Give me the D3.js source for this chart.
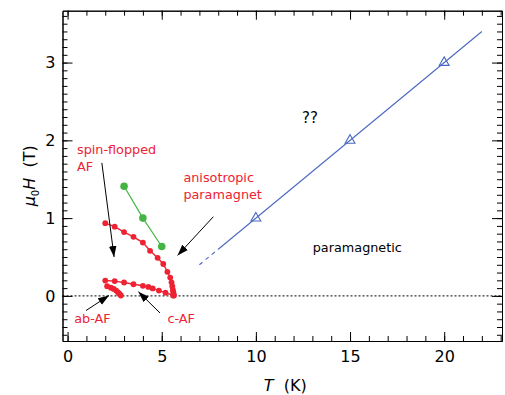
<!DOCTYPE html>
<html><head><meta charset="utf-8">
<script src="https://cdn.jsdelivr.net/npm/d3@7"></script>
<style>body{margin:0;background:#fff}svg{display:block}</style>
</head><body><svg id="c" width="505" height="395"></svg>
<script>
// ---- data ----
const xTicks = [0, 5, 10, 15, 20];
const yTicks = [0, 1, 2, 3];
// spin-flop boundary (upper red)
const sfT = [2.0, 2.5, 3.0, 3.5, 4.0, 4.38, 4.78, 5.08, 5.3, 5.45, 5.52, 5.56, 5.59, 5.61, 5.63, 5.65];
const sfH = [0.935, 0.89, 0.82, 0.76, 0.685, 0.58, 0.49, 0.41, 0.31, 0.235, 0.175, 0.125, 0.08, 0.05, 0.025, 0.005];
// c-AF boundary (lower red)
const cT = [2.0, 2.5, 3.0, 3.5, 4.0, 4.29, 4.52, 4.85, 5.2, 5.6];
const cH = [0.197, 0.19, 0.172, 0.15, 0.13, 0.115, 0.096, 0.068, 0.042, 0.005];
// ab-AF boundary
const abT = [2.1, 2.3, 2.45, 2.58, 2.68, 2.76, 2.83];
const abH = [0.125, 0.105, 0.09, 0.068, 0.045, 0.025, 0.005];
// green
const gT = [3, 4, 5];
const gH = [1.41, 1.0, 0.635];
// blue triangles and line
const bT = [10, 15, 20];
const bH = [1.0, 2.0, 3.0];
const bLineSolidT = [8, 22], bLineSolidH = [0.6, 3.4];
const bLineDashT = [7, 8], bLineDashH = [0.4, 0.6];
// annotations
const labels = [
  {t: "spin-flopped", T: 0.5, H: 1.83, c: "#ee2233", s: 12.8},
  {t: "AF", T: 0.5, H: 1.61, c: "#ee2233", s: 12.8},
  {t: "anisotropic", T: 6.15, H: 1.47, c: "#ee2233", s: 12.8},
  {t: "paramagnet", T: 6.15, H: 1.25, c: "#ee2233", s: 12.8},
  {t: "??", T: 12.45, H: 2.22, c: "#000", s: 15},
  {t: "paramagnetic", T: 13.02, H: 0.57, c: "#000", s: 12.8},
  {t: "ab-AF", T: 0.35, H: -0.35, c: "#ee2233", s: 12.8},
  {t: "c-AF", T: 5.3, H: -0.35, c: "#ee2233", s: 12.8}
];
const arrows = [
  [[1.82, 1.71], [2.47, 0.5]],
  [[7.74, 1.018], [5.84, 0.52]],
  [[0.98, -0.188], [2.2, 0.005]],
  [[4.91, -0.22], [3.76, 0.054]]
];

// ---- chart ----
const svg = d3.select("#c");
const x = d3.scaleLinear().domain([-0.27, 23.07]).range([62.5, 502]);
const y = d3.scaleLinear().domain([-0.58, 3.667]).range([341, 10.7]);
const RED = "#ee2233", GREEN = "#44b544", BLUE = "#4a68c0";
const font = "'DejaVu Sans', sans-serif";

const defs = svg.append("defs");
defs.append("marker").attr("id", "ah").attr("viewBox", "0 -4 11 8")
  .attr("refX", 11).attr("refY", 0).attr("markerWidth", 11).attr("markerHeight", 8)
  .attr("markerUnits", "userSpaceOnUse").attr("orient", "auto")
  .append("path").attr("d", "M0,-3.8L11,0L0,3.8Z").attr("fill", "#000");

// zero dotted line
svg.append("line").attr("x1", x.range()[0]).attr("x2", x.range()[1])
  .attr("y1", y(0)).attr("y2", y(0)).attr("stroke", "#000").attr("stroke-width", 1)
  .attr("stroke-dasharray", "2,2");

// axes
const minorX = d3.range(0, 24, 1);
const minorY = d3.range(-5, 37, 1).map(d => d / 10);
const fmt = d3.format("d");
function styleAxis(g) { g.selectAll("path,line").attr("stroke", "#000").attr("stroke-width", 1); g.selectAll("text").attr("font-family", font).attr("font-size", 16).attr("fill", "#000"); }
const B = y.range()[0], Tp = y.range()[1], L = x.range()[0], R = x.range()[1];
svg.append("g").attr("transform", `translate(0,${B})`).call(d3.axisBottom(x).tickValues(minorX).tickSize(-5).tickFormat("").tickSizeOuter(0)).call(styleAxis);
svg.append("g").attr("transform", `translate(0,${B})`).call(d3.axisBottom(x).tickValues(xTicks).tickSize(-9).tickPadding(10).tickFormat(fmt).tickSizeOuter(0)).call(styleAxis);
svg.append("g").attr("transform", `translate(0,${Tp})`).call(d3.axisTop(x).tickValues(minorX).tickSize(-5).tickFormat("").tickSizeOuter(0)).call(styleAxis);
svg.append("g").attr("transform", `translate(0,${Tp})`).call(d3.axisTop(x).tickValues(xTicks).tickSize(-9).tickFormat("").tickSizeOuter(0)).call(styleAxis);
svg.append("g").attr("transform", `translate(${L},0)`).call(d3.axisLeft(y).tickValues(minorY).tickSize(-5).tickFormat("").tickSizeOuter(0)).call(styleAxis);
svg.append("g").attr("transform", `translate(${L},0)`).call(d3.axisLeft(y).tickValues(yTicks).tickSize(-10).tickPadding(7).tickFormat(fmt).tickSizeOuter(0)).call(styleAxis);
svg.append("g").attr("transform", `translate(${R},0)`).call(d3.axisRight(y).tickValues(minorY).tickSize(-5).tickFormat("").tickSizeOuter(0)).call(styleAxis);
svg.append("g").attr("transform", `translate(${R},0)`).call(d3.axisRight(y).tickValues(yTicks).tickSize(-10).tickFormat("").tickSizeOuter(0)).call(styleAxis);

// axis labels
svg.append("text").attr("x", (L + R) / 2 + 3).attr("y", 391).attr("text-anchor", "middle")
  .attr("font-family", font).attr("font-size", 16)
  .call(t => { t.append("tspan").attr("font-style", "italic").text("T"); t.append("tspan").text("\u00a0 (K)"); });
svg.append("text").attr("transform", `translate(35,${(B + Tp) / 2}) rotate(-90)`).attr("text-anchor", "middle")
  .attr("font-family", font).attr("font-size", 16)
  .call(t => {
    t.append("tspan").attr("font-style", "italic").text("\u03bc");
    t.append("tspan").attr("font-size", 10).attr("dy", 4).text("0");
    t.append("tspan").attr("font-style", "italic").attr("dy", -4).text("H");
    t.append("tspan").text("\u00a0 (T)");
  });

// data lines
const line = d3.line().x(d => x(d[0])).y(d => y(d[1]));
const zip = (a, b) => a.map((v, i) => [v, b[i]]);
svg.append("path").datum(zip(bLineSolidT, bLineSolidH)).attr("d", line).attr("fill", "none").attr("stroke", BLUE).attr("stroke-width", 1.1);
svg.append("path").datum(zip(bLineDashT, bLineDashH)).attr("d", line).attr("fill", "none").attr("stroke", BLUE).attr("stroke-width", 1.1).attr("stroke-dasharray", "4,4");
svg.selectAll(".tri").data(zip(bT, bH)).enter().append("path")
  .attr("d", d3.symbol(d3.symbolTriangle, 42)).attr("transform", d => `translate(${x(d[0])},${y(d[1])})`)
  .attr("fill", "none").attr("stroke", BLUE).attr("stroke-width", 1.1);

svg.append("path").datum(zip(gT, gH)).attr("d", line).attr("fill", "none").attr("stroke", GREEN).attr("stroke-width", 1.2);
svg.selectAll(".g").data(zip(gT, gH)).enter().append("circle").attr("cx", d => x(d[0])).attr("cy", d => y(d[1])).attr("r", 3.8).attr("fill", GREEN);

[[sfT, sfH], [cT, cH], [abT, abH]].forEach(([a, b]) => {
  const d = zip(a, b);
  svg.append("path").datum(d).attr("d", line).attr("fill", "none").attr("stroke", RED).attr("stroke-width", 1.4);
  svg.selectAll(null).data(d).enter().append("circle").attr("cx", p => x(p[0])).attr("cy", p => y(p[1])).attr("r", 2.9).attr("fill", RED);
});

// arrows
arrows.forEach(a => {
  svg.append("line").attr("x1", x(a[0][0])).attr("y1", y(a[0][1])).attr("x2", x(a[1][0])).attr("y2", y(a[1][1]))
    .attr("stroke", "#000").attr("stroke-width", 1).attr("marker-end", "url(#ah)");
});

// labels
svg.selectAll(".lab").data(labels).enter().append("text")
  .attr("x", d => x(d.T)).attr("y", d => y(d.H)).attr("fill", d => d.c)
  .attr("font-family", font).attr("font-size", d => d.s).text(d => d.t);
</script>
</body></html>
